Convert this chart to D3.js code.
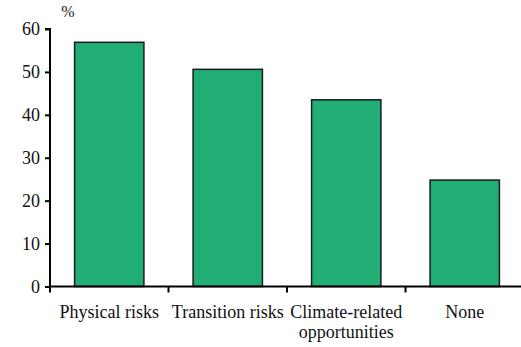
<!DOCTYPE html>
<html><head><meta charset="utf-8">
<script src="https://cdn.jsdelivr.net/npm/d3@7"></script>
<style>body{margin:0;background:#fff}svg{display:block}text{font-family:"Liberation Serif","Times New Roman",serif;fill:#111}</style>
</head><body><svg id="c" width="521" height="347"></svg>
<script>
const categories = ["Physical risks", "Transition risks", "Climate-related\nopportunities", "None"];
const values = [56.9, 50.6, 43.5, 24.8];
const yTicks = [0, 10, 20, 30, 40, 50, 60];
const unitLabel = "%";

const svg = d3.select("#c");
const x = d3.scaleBand().domain(categories).range([50, 524]).paddingInner(0.415).paddingOuter(0.2075);
const y = d3.scaleLinear().domain([0, 60]).range([286.5, 29]);

// bars
svg.selectAll("rect.bar").data(values).enter().append("rect")
  .attr("x", (d, i) => x(categories[i]))
  .attr("width", x.bandwidth())
  .attr("y", d => y(d))
  .attr("height", d => y(0) - y(d))
  .attr("fill", "#21ae74").attr("stroke", "#1a1a1a").attr("stroke-width", 1.5);

// y axis
const ya = svg.append("g").attr("transform", "translate(50,0)")
  .call(d3.axisLeft(y).tickValues(yTicks).tickSize(5).tickPadding(5).tickFormat(d3.format("d")));
ya.select(".domain").attr("stroke", "#000").attr("stroke-width", 2).attr("d", `M-5,${y(60)}H0V${y(0)}`);
ya.selectAll(".tick line").attr("stroke", "#000").attr("stroke-width", 2);
ya.selectAll(".tick text").attr("font-size", 18).attr("font-family", "Liberation Serif").attr("fill", "#111");

// x axis
const xa = svg.append("g").attr("transform", `translate(0,${y(0)})`);
xa.append("line").attr("x1", 50).attr("x2", 524).attr("stroke", "#000").attr("stroke-width", 2);
const step = x.step();
const bounds = d3.range(categories.length + 1).map(i => x(categories[0]) - x.paddingOuter() * step + i * step);
xa.selectAll("line.tk").data(bounds).enter().append("line")
  .attr("x1", d => d).attr("x2", d => d).attr("y1", 0).attr("y2", 6)
  .attr("stroke", "#000").attr("stroke-width", 2);
const lbl = xa.selectAll("text.cat").data(categories).enter().append("text")
  .attr("text-anchor", "middle").attr("font-size", 18)
  .attr("transform", d => `translate(${x(d) + x.bandwidth() / 2},31)`);
lbl.each(function(d) {
  const t = d3.select(this);
  d.split("\n").forEach((s, i) => t.append("tspan").attr("x", 0).attr("dy", i ? 20 : 0).text(s));
});

svg.append("text").attr("x", 68).attr("y", 17).attr("text-anchor", "middle").attr("font-size", 16).text(unitLabel);
</script></body></html>
